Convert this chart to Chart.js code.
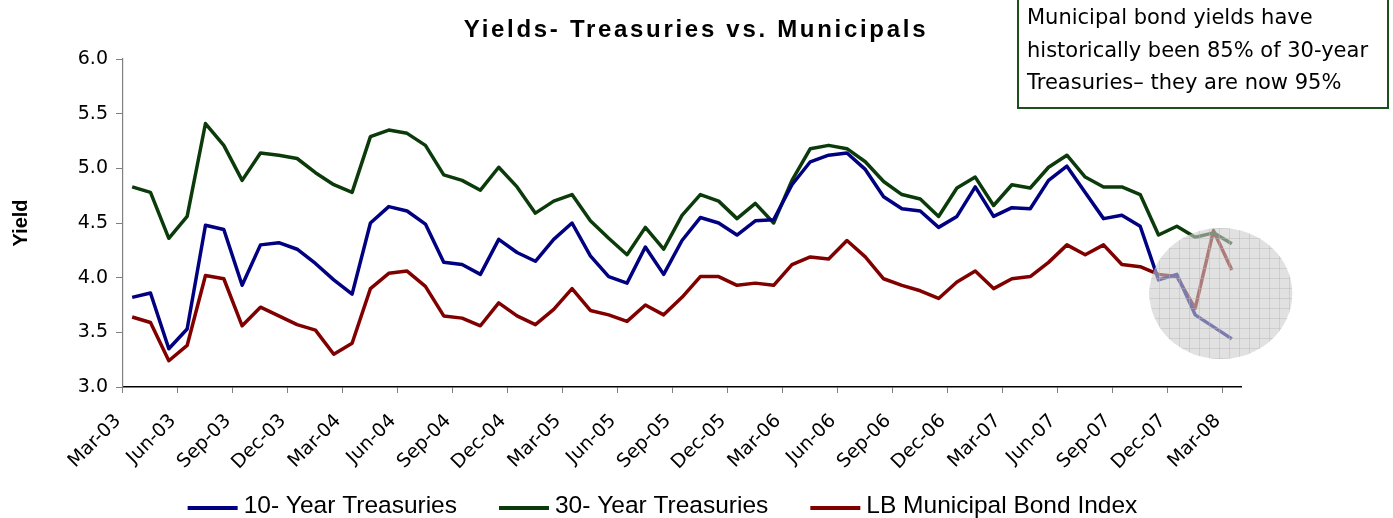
<!DOCTYPE html>
<html>
<head>
<meta charset="utf-8">
<script src="https://cdn.jsdelivr.net/npm/chart.js@4"></script>
<style>
html, body { margin: 0; padding: 0; background: #fff; }
#wrap { width: 1393px; height: 518px; position: relative; }
</style>
</head>
<body>
<div id="wrap"><canvas id="yields"></canvas></div>
<script>
const months = [
    'Mar-03', 'Apr-03', 'May-03', 'Jun-03', 'Jul-03', 'Aug-03', 'Sep-03', 'Oct-03', 'Nov-03', 'Dec-03',
    'Jan-04', 'Feb-04', 'Mar-04', 'Apr-04', 'May-04', 'Jun-04', 'Jul-04', 'Aug-04', 'Sep-04', 'Oct-04', 'Nov-04', 'Dec-04',
    'Jan-05', 'Feb-05', 'Mar-05', 'Apr-05', 'May-05', 'Jun-05', 'Jul-05', 'Aug-05', 'Sep-05', 'Oct-05', 'Nov-05', 'Dec-05',
    'Jan-06', 'Feb-06', 'Mar-06', 'Apr-06', 'May-06', 'Jun-06', 'Jul-06', 'Aug-06', 'Sep-06', 'Oct-06', 'Nov-06', 'Dec-06',
    'Jan-07', 'Feb-07', 'Mar-07', 'Apr-07', 'May-07', 'Jun-07', 'Jul-07', 'Aug-07', 'Sep-07', 'Oct-07', 'Nov-07', 'Dec-07',
    'Jan-08', 'Feb-08', 'Mar-08'
];

const tenYear = [
    3.82, 3.86, 3.35, 3.53, 4.48, 4.44, 3.93, 4.30, 4.32, 4.26,
    4.13, 3.98, 3.85, 4.50, 4.65, 4.61, 4.49, 4.14, 4.12, 4.03, 4.35, 4.23,
    4.15, 4.35, 4.50, 4.20, 4.01, 3.95, 4.28, 4.03, 4.34, 4.55, 4.50, 4.39,
    4.52, 4.53, 4.85, 5.06, 5.12, 5.14, 4.99, 4.74, 4.63, 4.61, 4.46, 4.56,
    4.83, 4.56, 4.64, 4.63, 4.89, 5.02, 4.78, 4.54, 4.57, 4.47, 3.98, 4.03,
    3.66, 3.55, 3.44
];

const thirtyYear = [
    4.83, 4.78, 4.36, 4.56, 5.41, 5.21, 4.89, 5.14, 5.12, 5.09,
    4.96, 4.85, 4.78, 5.29, 5.35, 5.32, 5.21, 4.94, 4.89, 4.80, 5.01, 4.83,
    4.59, 4.70, 4.76, 4.52, 4.36, 4.21, 4.46, 4.26, 4.57, 4.76, 4.70, 4.54,
    4.68, 4.50, 4.89, 5.18, 5.21, 5.18, 5.06, 4.88, 4.76, 4.72, 4.56, 4.82,
    4.92, 4.66, 4.85, 4.82, 5.01, 5.12, 4.92, 4.83, 4.83, 4.76, 4.39, 4.47,
    4.37, 4.41, 4.31
];

const muniIndex = [
    3.64, 3.59, 3.24, 3.38, 4.02, 3.99, 3.56, 3.73, 3.65, 3.57,
    3.52, 3.30, 3.40, 3.90, 4.04, 4.06, 3.92, 3.65, 3.63, 3.56, 3.77, 3.65,
    3.57, 3.71, 3.90, 3.70, 3.66, 3.60, 3.75, 3.66, 3.82, 4.01, 4.01, 3.93,
    3.95, 3.93, 4.12, 4.19, 4.17, 4.34, 4.19, 3.99, 3.93, 3.88, 3.81, 3.96,
    4.06, 3.90, 3.99, 4.01, 4.14, 4.30, 4.21, 4.30, 4.12, 4.10, 4.03, 4.01,
    3.72, 4.43, 4.07
];

const seriesNames = ['10- Year Treasuries', '30- Year Treasuries', 'LB Municipal Bond Index'];
const seriesColors = ['#000080', '#0b3b0b', '#800000'];

const chartTitle = 'Yields- Treasuries vs. Municipals';
const noteLines = ['Municipal bond yields have', 'historically been 85% of 30-year', 'Treasuries\u2013 they are now 95%'];

// gray highlight circle over the last few months (category index / yield value)
const highlight = { index: 59.4, value: 3.855, halfWidth: 3.9, halfHeight: 0.6 };

Chart.defaults.font.family = '"DejaVu Sans", sans-serif';
Chart.defaults.color = '#000';

const extras = {
    id: 'extras',
    afterDatasetsDraw(chart) {
        const ctx = chart.ctx;
        const xs = chart.scales.x, ys = chart.scales.y;
        const cx = xs.getPixelForValue(highlight.index);
        const cy = ys.getPixelForValue(highlight.value);
        const rx = xs.getPixelForValue(highlight.index + highlight.halfWidth) - cx;
        const ry = cy - ys.getPixelForValue(highlight.value + highlight.halfHeight);
        ctx.save();
        ctx.beginPath();
        ctx.ellipse(cx, cy, rx, ry, 0, 0, Math.PI * 2);
        ctx.fillStyle = 'rgba(205, 205, 205, 0.6)';
        ctx.fill();
        ctx.clip();
        ctx.strokeStyle = 'rgba(185, 185, 185, 0.45)';
        ctx.lineWidth = 1;
        ctx.beginPath();
        for (let gx = cx - rx; gx < cx + rx; gx += 10) {
            ctx.moveTo(Math.round(gx) + 0.5, cy - ry);
            ctx.lineTo(Math.round(gx) + 0.5, cy + ry);
        }
        for (let gy = cy - ry; gy < cy + ry; gy += 10) {
            ctx.moveTo(cx - rx, Math.round(gy) + 0.5);
            ctx.lineTo(cx + rx, Math.round(gy) + 0.5);
        }
        ctx.stroke();
        ctx.restore();
    },
    afterDraw(chart) {
        const ctx = chart.ctx;
        ctx.save();

        // title
        ctx.fillStyle = '#000';
        ctx.font = 'bold 24px "Liberation Sans", Arial, sans-serif';
        ctx.letterSpacing = '2.7px';
        ctx.textAlign = 'center';
        ctx.textBaseline = 'alphabetic';
        ctx.fillText(chartTitle, 696, 37);
        ctx.letterSpacing = '0px';

        // note box
        ctx.fillStyle = '#fff';
        ctx.fillRect(1018, -5, 370, 113);
        ctx.strokeStyle = '#1e4d1e';
        ctx.lineWidth = 2;
        ctx.strokeRect(1018, -5, 370, 113);
        ctx.fillStyle = '#000';
        ctx.font = '21px "DejaVu Sans", sans-serif';
        ctx.textAlign = 'left';
        noteLines.forEach((t, i) => ctx.fillText(t, 1027, 24 + i * 32.5));

        // legend
        ctx.font = '24.5px "Liberation Sans", Arial, sans-serif';
        ctx.textBaseline = 'alphabetic';
        const widths = seriesNames.map(n => ctx.measureText(n).width);
        const total = widths.reduce((a, b) => a + b, 0) + 3 * 56 + 2 * 42;
        let lx = 662.5 - total / 2;
        seriesNames.forEach((n, i) => {
            ctx.strokeStyle = seriesColors[i];
            ctx.lineWidth = 4;
            ctx.beginPath();
            ctx.moveTo(lx, 508);
            ctx.lineTo(lx + 50, 508);
            ctx.stroke();
            ctx.fillText(n, lx + 56, 513);
            lx += 56 + widths[i] + 42;
        });
        ctx.restore();
    }
};

const ctx = document.getElementById('yields').getContext('2d');
const yieldsChart = new Chart(ctx, {
    type: 'line',
    data: {
        labels: months,
        datasets: [
            { label: seriesNames[0], data: tenYear, borderColor: seriesColors[0], backgroundColor: seriesColors[0] },
            { label: seriesNames[1], data: thirtyYear, borderColor: seriesColors[1], backgroundColor: seriesColors[1] },
            { label: seriesNames[2], data: muniIndex, borderColor: seriesColors[2], backgroundColor: seriesColors[2] }
        ]
    },
    options: {
        responsive: true,
        maintainAspectRatio: false,
        animation: false,
        devicePixelRatio: 1,
        layout: { padding: { top: 59, right: 152, left: 0, bottom: 0 } },
        elements: {
            line: { borderWidth: 3.5, tension: 0, fill: false, borderJoinStyle: 'round' },
            point: { radius: 0, hoverRadius: 0 }
        },
        plugins: {
            legend: { display: false },
            title: { display: false },
            tooltip: { enabled: false }
        },
        scales: {
            x: {
                offset: true,
                afterFit: s => { s.height = 131; },
                grid: {
                    offset: true,
                    drawOnChartArea: false,
                    tickLength: 6,
                    color: c => (c.index % 3 === 0 ? '#808080' : 'rgba(0,0,0,0)')
                },
                border: { color: '#000', width: 1.5 },
                ticks: {
                    autoSkip: false,
                    maxRotation: 45,
                    minRotation: 45,
                    padding: 17,
                    labelOffset: -14,
                    font: { size: 19 },
                    callback: function(value, index) {
                        return index % 3 === 0 ? this.getLabelForValue(value) : '';
                    }
                }
            },
            y: {
                min: 3,
                max: 6,
                afterFit: s => { s.width = 123; },
                grid: { drawOnChartArea: false, tickLength: 7, color: '#808080' },
                border: { color: '#808080', width: 1.2 },
                ticks: {
                    stepSize: 0.5,
                    padding: 8,
                    font: { size: 19 },
                    callback: v => v.toFixed(1)
                },
                title: {
                    display: true,
                    text: 'Yield',
                    font: { size: 20, weight: 'bold', family: '"Liberation Sans", Arial, sans-serif' },
                    padding: { top: 9, bottom: 0 }
                }
            }
        }
    },
    plugins: [extras]
});
</script>
</body>
</html>
